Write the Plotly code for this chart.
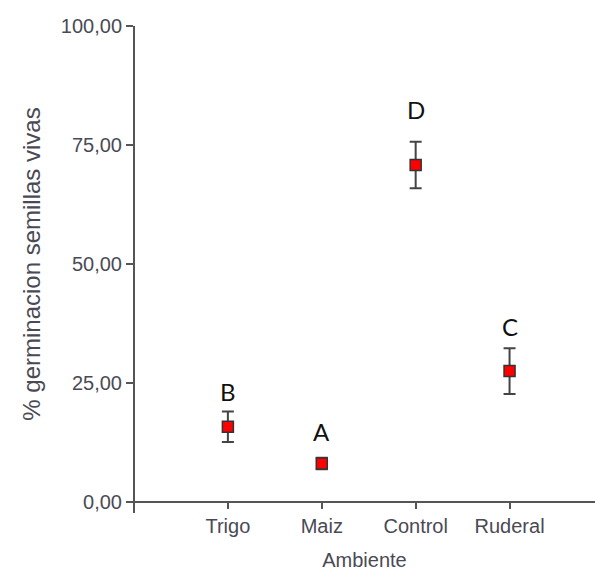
import plotly.graph_objects as go

ambientes = ["Trigo", "Maiz", "Control", "Ruderal"]
germinacion = [15.8, 8.1, 70.8, 27.5]
error = [3.2, 1.2, 4.9, 4.8]
letras = ["B", "A", "D", "C"]
letra_y = [23.3, 14.9, 82.4, 36.9]
y_ticks = [0, 25, 50, 75, 100]
y_tick_text = ["0,00", "25,00", "50,00", "75,00", "100,00"]

x_pos = list(range(len(ambientes)))

axis_color = "#555555"
text_color = "#4a4a55"

fig = go.Figure()
fig.add_trace(go.Scatter(
    x=x_pos, y=germinacion, mode="markers",
    error_y=dict(type="data", array=error, visible=True,
                 color="#444444", thickness=2, width=6),
    marker=dict(symbol="square", size=11, color="#ff0000",
                line=dict(color="#333333", width=1.5)),
    showlegend=False,
))

for xp, txt, yy in zip(x_pos, letras, letra_y):
    fig.add_annotation(x=xp, y=yy, text=txt, showarrow=False,
                       font=dict(family="Lato", size=24, color="#111111"))

# axis lines drawn as shapes (x axis full width, y axis slightly past the origin)
fig.add_shape(type="line", xref="paper", yref="paper", x0=0, x1=1, y0=0, y1=0,
              line=dict(color=axis_color, width=2), layer="above")
fig.add_shape(type="line", xref="paper", yref="paper", x0=0, x1=0, y0=-0.023, y1=1,
              line=dict(color=axis_color, width=2), layer="above")

fig.update_layout(
    width=595, height=571,
    margin=dict(l=134, r=0, t=26, b=69, autoexpand=False),
    plot_bgcolor="white", paper_bgcolor="white",
    font=dict(family="Liberation Sans, Arial", size=20, color=text_color),
    xaxis=dict(
        range=[-1, 3.91],
        tickvals=x_pos, ticktext=ambientes,
        showline=False,
        ticks="outside", ticklen=6, tickwidth=2, tickcolor=axis_color,
        showgrid=False, zeroline=False,
        title=dict(text="Ambiente", font=dict(size=20, color=text_color), standoff=16),
        tickfont=dict(size=20, color=text_color),
    ),
    yaxis=dict(
        range=[0, 100],
        tickvals=y_ticks, ticktext=y_tick_text,
        showline=False,
        ticks="outside", ticklen=7, tickwidth=2, tickcolor=axis_color,
        showgrid=False, zeroline=False,
        title=dict(text="% germinacion semillas vivas", font=dict(size=24, color=text_color), standoff=13),
        tickfont=dict(size=20, color=text_color),
    ),
)

fig.write_html(
    "out.html",
    config={"displayModeBar": False},
    post_script="document.body.style.margin='0';document.body.style.overflow='hidden';",
)
